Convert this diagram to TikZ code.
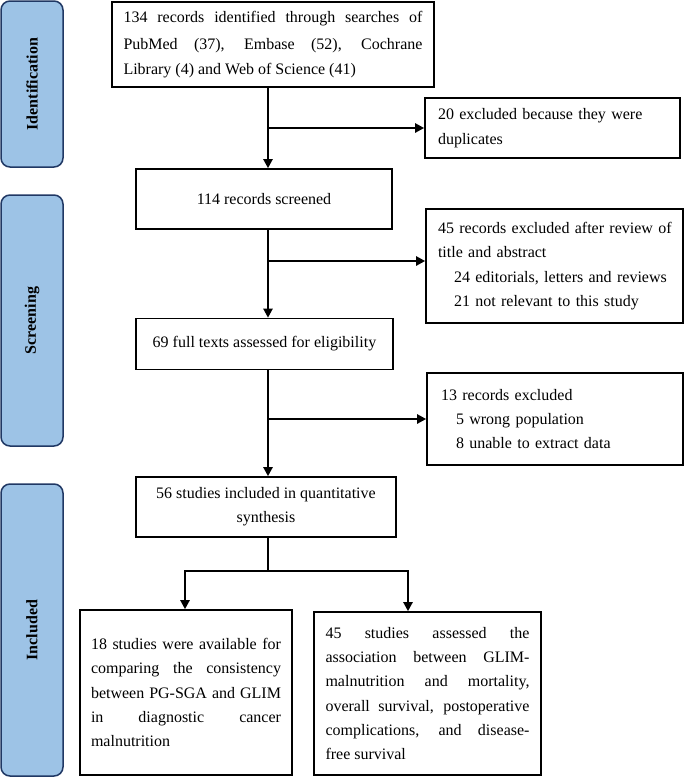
\documentclass[tikz,border=0pt]{standalone}
\usepackage{fontspec}
\setmainfont{Liberation Serif}
\usetikzlibrary{arrows.meta}
\definecolor{sidefill}{RGB}{157,195,230}
\definecolor{sidedraw}{RGB}{32,56,100}
\tikzset{
  box/.style={draw=black, line width=1.6pt, inner sep=0pt, font=\fontsize{16}{24.3}\selectfont},
  jbox/.style={box, align=justify},
  lbox/.style={box, align=left},
  cbox/.style={box, align=center},
  side/.style={draw=sidedraw, fill=sidefill, line width=1.5pt, rounded corners=9pt, inner sep=0pt, font=\fontsize{16}{19}\selectfont\bfseries, rotate=90},
  conn/.style={line width=2.2pt, -{Triangle[length=9pt,width=9pt]}},
  twoconn/.style={line width=2.2pt, {Triangle[length=9pt,width=9pt]}-{Triangle[length=9pt,width=9pt]}},
  plainline/.style={line width=2.2pt}
}
\begin{document}
\begin{tikzpicture}[x=1pt,y=-1pt]
\useasboundingbox (0,0) rectangle (685,777);

% side labels
\node[side, minimum width=166pt, minimum height=62pt] (ident) at (32,84) {Identification};
\node[side, minimum width=251pt, minimum height=62pt] (screen) at (32,320.5) {Screening};
\node[side, minimum width=292pt, minimum height=62pt] (incl) at (32,630) {Included};

% main boxes
\node[jbox, minimum width=322pt, minimum height=85pt, text width=299pt] (b1) at (273,44.5)
  {\hyphenpenalty=10000 \vspace*{3pt}134 records identified through searches of\linebreak PubMed (37), Embase (52), Cochrane\linebreak Library (4) and Web of Science (41)};
\node[lbox, minimum width=255pt, minimum height=60pt, text width=229pt] (x1) at (552.5,128)
  {20 excluded because they were\\duplicates};
\node[cbox, minimum width=256pt, minimum height=60pt] (b2) at (264,199)
  {114 records screened};
\node[lbox, minimum width=257pt, minimum height=114pt, text width=233pt] (x2) at (554.5,266)
  {\mbox{45 records excluded after review of}\\title and abstract\\\hspace*{16pt}24 editorials, letters and reviews\\\hspace*{16pt}21 not relevant to this study};
\node[cbox, minimum width=257pt, minimum height=51pt] (b3) at (264.5,344)
  {69 full texts assessed for eligibility};
\node[lbox, minimum width=256pt, minimum height=92pt, text width=228pt] (x3) at (555,419)
  {13 records excluded\\\hspace*{15pt}5 wrong population\\\hspace*{15pt}8 unable to extract data};
\node[cbox, minimum width=260pt, minimum height=60pt] (b4) at (266,507)
  {56 studies included in quantitative\\synthesis};
\node[jbox, minimum width=212pt, minimum height=165pt, text width=190pt] (b5) at (186,692.5)
  {\hyphenpenalty=10000 18 studies were available for\linebreak comparing the consistency\linebreak between PG-SGA and GLIM\linebreak in diagnostic cancer\linebreak malnutrition};
\node[jbox, minimum width=227pt, minimum height=163pt, text width=204pt] (b6) at (427.5,693.5)
  {\hyphenpenalty=10000 45 studies assessed the\linebreak association between GLIM-\linebreak malnutrition and mortality,\linebreak overall survival, postoperative\linebreak complications, and disease-\linebreak free survival};

% connectors
\coordinate (spine) at (268,0);
\coordinate (sp) at (268,571);
\coordinate (L) at (185,571);
\coordinate (R) at (408,571);
\coordinate (x2in) at ([yshift=5pt]x2.west);

\draw[conn] (b1.south -| spine) -- (b2.north -| spine);
\draw[conn] (spine |- x1.west) -- (x1.west);
\draw[conn] (b2.south -| spine) -- (b3.north -| spine);
\draw[conn] (spine |- x2in) -- (x2in);
\draw[conn] (b3.south -| spine) -- (b4.north -| spine);
\draw[conn] (spine |- x3.west) -- (x3.west);
\draw[plainline] (b4.south -| sp) -- (sp);
\draw[twoconn] (L |- b5.north) -- (L) -- (R) -- (R |- b6.north);
\end{tikzpicture}
\end{document}
